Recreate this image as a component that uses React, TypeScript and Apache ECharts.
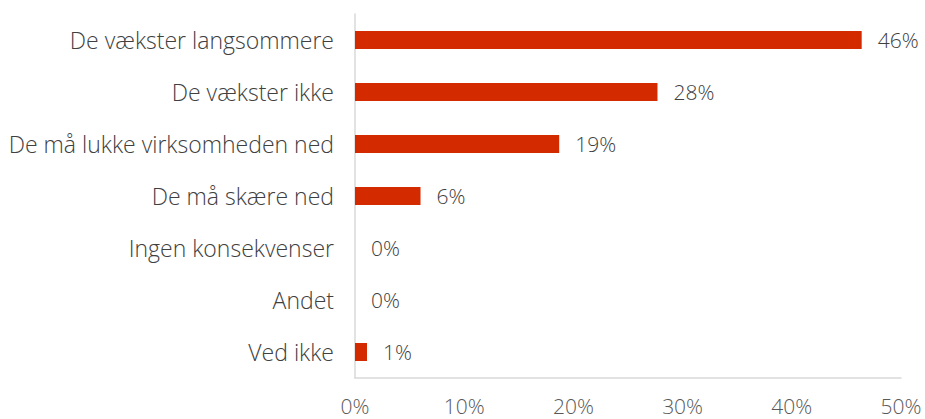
import React, { useEffect, useRef } from "react";
import * as echarts from "echarts";

const categories = [
  "De vækster langsommere",
  "De vækster ikke",
  "De må lukke virksomheden ned",
  "De må skære ned",
  "Ingen konsekvenser",
  "Andet",
  "Ved ikke",
];
const values = [46.4, 27.7, 18.7, 6.0, 0, 0, 1.1];
const tickMax = 50;
const tickStep = 10;

export default function App() {
  const ref = useRef<HTMLDivElement>(null);
  useEffect(() => {
    document.body.style.margin = "0";
    if (!ref.current) return;
    const chart = echarts.init(ref.current, null, { renderer: "svg" });
    const font = "'Open Sans', Lato, sans-serif";
    const common = { fontSize: 21, fontFamily: font, fontWeight: 300 };
    chart.setOption({
      animation: false,
      grid: { left: 355, right: 24, top: 14, bottom: 41, containLabel: false },
      xAxis: {
        type: "value",
        min: 0,
        max: tickMax,
        interval: tickStep,
        axisLine: { show: true, lineStyle: { color: "#d9d9d9", width: 1.5 } },
        axisTick: { show: false },
        splitLine: { show: false },
        axisLabel: {
          formatter: (v: number) => `${v}%`,
          color: "#595959",
          margin: 17,
          ...common,
        },
      },
      yAxis: {
        type: "category",
        data: categories,
        inverse: true,
        axisLine: { show: true, lineStyle: { color: "#d9d9d9", width: 1.5 } },
        axisTick: { show: false },
        axisLabel: {
          color: "#404040",
          margin: 21,
          ...common,
          fontSize: 23,
        },
      },
      series: [
        {
          type: "bar",
          data: values,
          barWidth: 18,
          itemStyle: { color: "#D42A00" },
          label: {
            show: true,
            position: "right",
            distance: 16,
            formatter: (p: any) => `${Math.round(p.value)}%`,
            color: "#404040",
            ...common,
          },
        },
      ],
    });
    return () => chart.dispose();
  }, []);
  return <div ref={ref} style={{ width: 925, height: 419 }} />;
}
